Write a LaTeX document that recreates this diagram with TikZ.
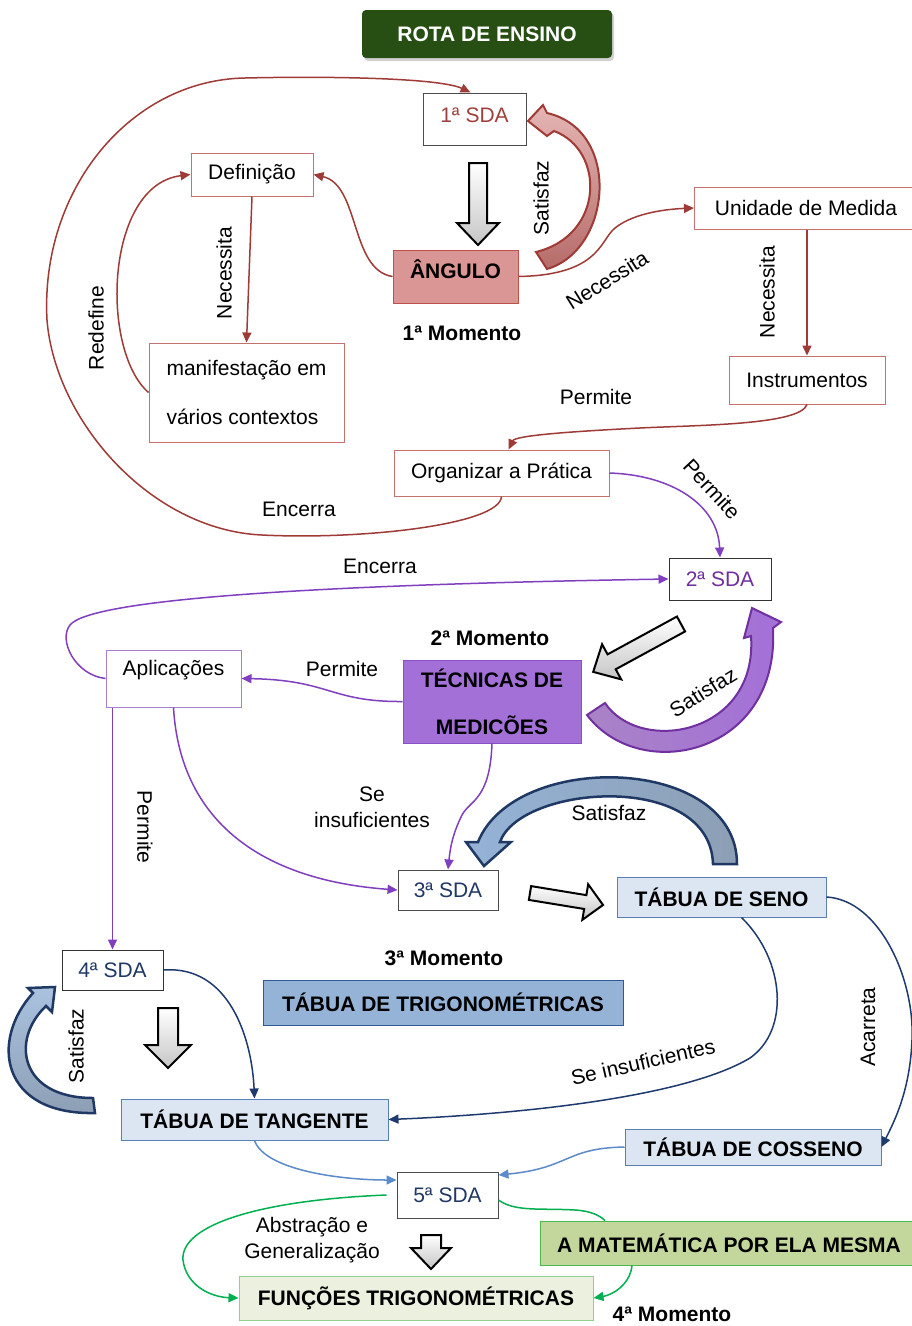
\documentclass[tikz,border=0pt]{standalone}
\usepackage{fontspec}
\setmainfont{Liberation Sans}
\usetikzlibrary{arrows.meta,shadows}
\definecolor{titlegreen}{HTML}{274E13}
\definecolor{sdared}{HTML}{A0403C}
\definecolor{rdl}{HTML}{9E3B37}
\definecolor{rbord}{HTML}{C47270}
\definecolor{angfill}{HTML}{D99694}
\definecolor{angbord}{HTML}{C0504D}
\definecolor{plines}{HTML}{7F3FBF}
\definecolor{pbord}{HTML}{A57FD0}
\definecolor{sdapurple}{HTML}{7030A0}
\definecolor{tecfill}{HTML}{A370D8}
\definecolor{tecbord}{HTML}{8B4FC8}
\definecolor{nvl}{HTML}{1F3A6E}
\definecolor{sdanavy}{HTML}{1F3864}
\definecolor{tfill}{HTML}{DCE6F2}
\definecolor{tbord}{HTML}{5A7FB5}
\definecolor{trigfill}{HTML}{95B3D7}
\definecolor{trigbord}{HTML}{2E5A9A}
\definecolor{lbl}{HTML}{5B8BC8}
\definecolor{grl}{HTML}{00B050}
\definecolor{matfill}{HTML}{C3D69B}
\definecolor{matbord}{HTML}{4DB84D}
\definecolor{funfill}{HTML}{EBF1DE}
\definecolor{funbord}{HTML}{8FD18F}
\newcommand{\labfont}{\fontsize{21}{25}\selectfont}
\newcommand{\blockarrow}[7]{%
  \begin{scope}[shift={(#1,#2)},rotate=#3]
    \draw[barrow] (0,-#5) -- ({#4-#7},-#5) -- ({#4-#7},-#6) -- (#4,0) -- ({#4-#7},#6) -- ({#4-#7},#5) -- (0,#5) -- cycle;
  \end{scope}}
\tikzset{
  bx/.style={draw, rectangle, inner sep=0pt, align=center, font=\labfont, line width=1pt, fill=white},
  lab/.style={font=\labfont, inner sep=0pt},
  bl/.style={font=\labfont\bfseries, inner sep=0pt},
  tip/.style={-{Triangle[length=10pt,width=9pt]}},
  rd/.style={draw=rdl, line width=1.5pt, tip},
  pu/.style={draw=plines, line width=1.5pt, tip},
  nv/.style={draw=nvl, line width=1.5pt, tip},
  lb/.style={draw=lbl, line width=1.5pt, tip},
  gr/.style={draw=grl, line width=1.5pt, tip},
  barrow/.style={draw=black, line width=2pt, line join=miter, top color=white, bottom color=gray!45},
  title/.style={fill=titlegreen, text=white, font=\labfont\bfseries, minimum width=250pt, minimum height=48pt, rounded corners=4pt, inner sep=0pt, drop shadow={opacity=0.35, shadow xshift=2pt, shadow yshift=-3pt}},
}
\begin{document}
\begin{tikzpicture}[x=1pt,y=-1pt]
\fill[white] (0,0) rectangle (912,1326);
\useasboundingbox (0,0) rectangle (912,1326);

% ---------- nodes ----------
\node[title] (rota) at (487,34) {ROTA DE ENSINO};
\node[bx, draw=gray!60!black, text=sdared, minimum width=103pt, minimum height=52pt, text height=15pt, text depth=8pt] (sda1) at (474.5,119) {1ª SDA};
\node[bx, draw=rbord, minimum width=122pt, minimum height=43pt] (def) at (252,174.5) {Definição};
\node[bx, draw=angbord, fill=angfill, font=\labfont\bfseries, minimum width=125pt, minimum height=53pt, text height=15pt, text depth=12pt] (ang) at (455.5,276.5) {ÂNGULO};
\node[bl] (m1) at (462,333) {1ª Momento};
\node[bx, draw=rbord, minimum width=223pt, minimum height=42pt] (unid) at (806,208) {Unidade de Medida};
\node[bx, draw=rbord, minimum width=156pt, minimum height=48pt] (instr) at (807,380) {Instrumentos};
\node[bx, draw=rbord, minimum width=195pt, minimum height=99pt, align=left, font=\fontsize{21}{49}\selectfont] (manif) at (246.5,392.5) {manifestação em\\vários contextos};
\node[bx, draw=rbord, minimum width=215pt, minimum height=46pt] (org) at (501.5,473) {Organizar a Prática};
\node[bx, draw=black!80, text=sdapurple, minimum width=102pt, minimum height=42pt] (sda2) at (720,579) {2ª SDA};
\node[bl] (m2) at (490,638) {2ª Momento};
\node[bx, draw=tecbord, fill=tecfill, font=\fontsize{21}{47}\selectfont\bfseries, minimum width=178pt, minimum height=83pt] (tec) at (492,701.5) {TÉCNICAS DE\\MEDICÕES};
\node[bx, draw=pbord, minimum width=135pt, minimum height=57pt, text height=15pt, text depth=21pt] (apl) at (173.5,678.5) {Aplicações};
\node[bx, draw=gray!60!black, text=sdanavy, minimum width=100pt, minimum height=40pt] (sda3) at (448,890) {3ª SDA};
\node[bx, draw=tbord, fill=tfill, font=\labfont\bfseries, minimum width=209pt, minimum height=40pt] (seno) at (721.5,897) {TÁBUA DE SENO};
\node[bx, draw=black!80, text=sdanavy, minimum width=101pt, minimum height=40pt] (sda4) at (112.5,970) {4ª SDA};
\node[bl] (m3) at (444,958) {3ª Momento};
\node[bx, draw=trigbord, fill=trigfill, font=\labfont\bfseries, minimum width=360pt, minimum height=45pt] (trig) at (443,1002.5) {TÁBUA DE TRIGONOMÉTRICAS};
\node[bx, draw=tbord, fill=tfill, font=\labfont\bfseries, minimum width=267pt, minimum height=41pt] (tang) at (254.5,1119.5) {TÁBUA DE TANGENTE};
\node[bx, draw=tbord, fill=tfill, font=\labfont\bfseries, minimum width=256pt, minimum height=36pt] (cos) at (753,1147) {TÁBUA DE COSSENO};
\node[bx, draw=gray!60!black, text=sdanavy, minimum width=101pt, minimum height=46pt] (sda5) at (447.5,1195) {5ª SDA};
\node[bx, draw=matbord, fill=matfill, font=\labfont\bfseries, minimum width=378pt, minimum height=44pt] (mat) at (729,1243) {A MATEMÁTICA POR ELA MESMA};
\node[bx, draw=funbord, fill=funfill, font=\labfont\bfseries, minimum width=354pt, minimum height=44pt] (func) at (416,1298) {FUNÇÕES TRIGONOMÉTRICAS};
\node[bl] (m4) at (672,1314) {4ª Momento};

% ---------- labels ----------
\node[lab, rotate=90] (l1) at (541,198) {Satisfaz};
\node[lab, rotate=90] (l2) at (224,273) {Necessita};
\node[lab, rotate=90] (l3) at (96,328) {Redefine};
\node[lab, rotate=32] (l4) at (607,280) {Necessita};
\node[lab, rotate=90] (l5) at (767,292) {Necessita};
\node[lab] (l6) at (596,397) {Permite};
\node[lab] (l7) at (299,509) {Encerra};
\node[lab, rotate=-47] (l8) at (712,489) {Permite};
\node[lab] (l9) at (380,566) {Encerra};
\node[lab] (l10) at (342,669) {Permite};
\node[lab, rotate=32] (l11) at (703,692) {Satisfaz};
\node[lab, rotate=-90] (l12) at (145,827) {Permite};
\node[lab, align=center, font=\fontsize{21}{26}\selectfont] (l13) at (372,807) {Se\\insuficientes};
\node[lab] (l14) at (609,813) {Satisfaz};
\node[lab, rotate=90] (l15) at (76,1046) {Satisfaz};
\node[lab, rotate=13] (l16) at (643,1062) {Se insuficientes};
\node[lab, rotate=90] (l17) at (868,1027) {Acarreta};
\node[lab, align=center, font=\fontsize{21}{26}\selectfont] (l18) at (312,1240) {Abstração e\\Generalização};

% ---------- red connectors ----------
\draw[rd] (org.south) .. controls (500,525) and (360,540) .. (262,535)
  .. controls (150,530) and (55,420) .. (47,320)
  .. controls (40,190) and (130,80) .. (245,78)
  .. controls (330,76) and (440,78) .. ([xshift=-4pt]sda1.north);
\draw[rd] (manif.west) .. controls (100,350) and (105,185) .. (def.west);
\draw[rd] (ang.west) .. controls (350,270) and (360,185) .. (def.east);
\draw[rd] (def.south) -- (manif.north);
\draw[rd] (ang.east) .. controls (600,275) and (600,240) .. (615,228) .. controls (635,212) and (670,209) .. (unid.west);
\draw[rd] (unid.south -| instr.north) -- (instr.north);
\draw[rd] (instr.south) .. controls (800,425) and (700,425) .. (640,428) .. controls (560,432) and (515,436) .. ([xshift=7pt]org.north);

% ---------- purple connectors ----------
\draw[pu] (org.east) .. controls (672,475) and (718,505) .. (sda2.north);
\draw[pu] (apl.west) .. controls (75,675) and (58,640) .. (70,625) .. controls (90,600) and (300,585) .. (sda2.west);
\draw[pu] (tec.west) .. controls (330,702) and (330,680) .. (apl.east);
\draw[pu] (apl.south -| sda4.north) -- (sda4.north);
\draw[pu] (apl.south) .. controls (180,820) and (260,880) .. (sda3.west);
\draw[pu] (tec.south) .. controls (490,800) and (470,800) .. (462,815) .. controls (452,835) and (450,850) .. (sda3.north);

% ---------- navy connectors ----------
\draw[nv] (seno.east) .. controls (880,900) and (915,980) .. (912,1040) .. controls (910,1090) and (895,1120) .. (cos.east);
\draw[nv] ([xshift=20pt]seno.south) .. controls (785,960) and (790,1030) .. (750,1058) .. controls (680,1100) and (500,1115) .. (tang.east);
\draw[nv] (sda4.east) .. controls (230,965) and (252,1040) .. (tang.north);

% ---------- light blue connectors ----------
\draw[lb] (tang.south) .. controls (265,1170) and (340,1180) .. ([yshift=15pt]sda5.west);
\draw[lb] (cos.west) .. controls (565,1148) and (570,1168) .. ([yshift=20pt]sda5.east);

% ---------- green connectors ----------
\draw[gr] ([xshift=-10pt]sda5.west) .. controls (260,1200) and (180,1225) .. (183,1260) .. controls (186,1285) and (210,1297) .. (func.west);
\draw[draw=grl, line width=1.5pt] ([yshift=-5pt]sda5.east) .. controls (515,1212) and (540,1208) .. (575,1210) .. controls (592,1211) and (600,1216) .. ([xshift=-124pt]mat.north);
\draw[gr] ([xshift=-97pt]mat.south) .. controls (630,1285) and (612,1295) .. (func.east);

% ---------- block arrows ----------
\blockarrow{478}{163}{-90}{82}{9}{21}{22}
\blockarrow{681}{624}{-151.4}{100}{8.5}{20}{21}
\blockarrow{530}{893}{-9.3}{74}{7}{18}{18}
\blockarrow{168}{1008}{-90}{60}{10}{23}{23}
\blockarrow{431}{1235}{-90}{34}{10}{20}{21}

% ---------- curved band arrows ----------
\draw[draw=rdl, line width=2pt, top color=angfill!70!white, bottom color=rdl!75, line join=miter]
  (547,269) .. controls (612,250) and (622,130) .. (547,113) -- (543,105) -- (528,121) -- (547,136) -- (554,131)
  .. controls (605,150) and (605,235) .. (536,252) -- cycle;
\draw[draw=sdapurple, line width=2pt, left color=sdapurple!60, right color=tecfill, line join=miter]
  (587,715) .. controls (640,785) and (780,755) .. (773,628) -- (781,622) -- (752,608) -- (744,638) -- (751,636)
  .. controls (758,735) and (640,755) .. (605,703) -- cycle;
\draw[draw=sdanavy, line width=2.5pt, left color=trigfill, right color=trigfill!60!gray, line join=miter]
  (737,864) .. controls (737,755) and (515,750) .. (478,842) -- (466,842) -- (484,866) -- (511,842) -- (500,842)
  .. controls (520,785) and (710,770) .. (713,864) -- cycle;
\draw[draw=sdanavy, line width=2.5pt, top color=trigfill!80!white, bottom color=trigfill!60!gray, line join=miter]
  (95,1113) .. controls (0,1115) and (-10,1040) .. (33,993) -- (28,988) -- (55,987) -- (52,1012) -- (46,1006)
  .. controls (10,1040) and (20,1098) .. (93,1098) -- cycle;
\end{tikzpicture}
\end{document}
